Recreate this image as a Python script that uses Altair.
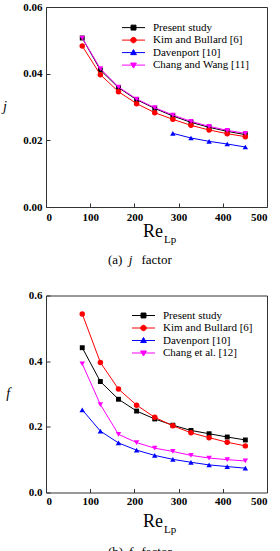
import altair as alt
import pandas as pd

# Reynolds numbers based on louver pitch
re_lp = [82, 123, 164, 205, 246, 287, 328, 369, 410, 451]
re_davenport_j = [287, 328, 369, 410, 451]

# Colburn j factor
j_present = [0.0507, 0.0411, 0.0358, 0.0322, 0.0296, 0.0273, 0.0254, 0.0239, 0.0227, 0.0217]
j_kim = [0.0483, 0.0397, 0.0346, 0.0310, 0.0283, 0.0263, 0.0245, 0.0231, 0.0220, 0.0211]
j_davenport = [0.0221, 0.0207, 0.0197, 0.0189, 0.0180]
j_chang = [0.0507, 0.0415, 0.0360, 0.0324, 0.0298, 0.0276, 0.0257, 0.0242, 0.0230, 0.0221]

# Fanning friction factor
f_present = [0.441, 0.338, 0.284, 0.248, 0.224, 0.205, 0.189, 0.179, 0.169, 0.160]
f_kim = [0.544, 0.396, 0.315, 0.266, 0.229, 0.203, 0.182, 0.167, 0.153, 0.142]
f_davenport = [0.252, 0.187, 0.151, 0.129, 0.113, 0.101, 0.092, 0.084, 0.079, 0.074]
f_chang = [0.392, 0.268, 0.177, 0.152, 0.135, 0.125, 0.113, 0.105, 0.100, 0.096]

j_names = ["Present study", "Kim and Bullard [6]", "Davenport [10]", "Chang and Wang [11]"]
f_names = ["Present study", "Kim and Bullard [6]", "Davenport [10]", "Chang et al. [12]"]

x_ticks = [0, 100, 200, 300, 400, 500]
j_ticks = [0.0, 0.02, 0.04, 0.06]
f_ticks = [0.0, 0.2, 0.4, 0.6]

COLORS = ["#000000", "#ff0000", "#0000ff", "#ff00ff"]
MARKERS = ["square", "circle", "triangle-up", "triangle-down"]
MARKER_SIZES = [24, 30, 30, 30]
# legend glyphs: a short line through the marker
LEGEND_PATHS = [
    "M-4.2,0H4.2M-0.9,-0.9H0.9V0.9H-0.9Z",
    "M-4.2,0H4.2M-1,0A1,1,0,1,0,1,0A1,1,0,1,0,-1,0Z",
    "M-4.2,0H4.2M0,-1.1L1.05,0.75H-1.05Z",
    "M-4.2,0H4.2M0,1.1L1.05,-0.75H-1.05Z",
]
SERIF = "Liberation Serif, Times New Roman, serif"
W = 221


def long_frame(names, xs_list, ys_list):
    rows = []
    for name, xs, ys in zip(names, xs_list, ys_list):
        for x, y in zip(xs, ys):
            rows.append({"Re": x, "val": y, "series": name})
    return pd.DataFrame(rows)


def text_layer(txt, x, y, size, style="normal", align="left", baseline="alphabetic"):
    return alt.Chart(pd.DataFrame({"t": [txt]})).mark_text(
        font=SERIF, fontSize=size, fontStyle=style, align=align,
        baseline=baseline, color="black",
    ).encode(text="t:N", x=alt.value(x), y=alt.value(y))


def panel(df, names, ticks, fmt, height, ytitle, title_pos, re_pos, caption,
          cap_pos, legend_xy, label_pad_x):
    axis_style = dict(title=None, offset=-4, tickSize=4, domain=False, grid=False,
                      labelFont=SERIF, labelFontWeight="bold", labelFontSize=11,
                      labelColor="black", tickColor="#333333", tickWidth=1)
    xenc = alt.X("Re:Q", scale=alt.Scale(domain=[0, 500], nice=False),
                 axis=alt.Axis(values=x_ticks, labelPadding=label_pad_x, format="d",
                               **axis_style))
    yenc = alt.Y("val:Q", scale=alt.Scale(domain=[ticks[0], ticks[-1]], nice=False),
                 axis=alt.Axis(values=ticks, labelPadding=4, format=fmt, **axis_style))
    base = alt.Chart(df)

    layers = []
    # one line + marker layer per series
    for name, col, shp, sz in zip(names, COLORS, MARKERS, MARKER_SIZES):
        sub = base.transform_filter(alt.datum.series == name)
        layers.append(sub.mark_line(strokeWidth=1, color=col).encode(x=xenc, y=yenc))
        layers.append(
            sub.mark_point(shape=shp, filled=True, size=sz, opacity=1, color=col)
            .encode(x=xenc, y=yenc)
        )

    # invisible layer carrying the legend (line-through-marker glyphs)
    lx, ly = legend_xy
    leg = dict(orient="none", legendX=lx, legendY=ly, title=None, padding=0,
               labelFont=SERIF, labelFontSize=11, labelColor="black",
               labelOffset=14, rowPadding=0.5, symbolSize=30,
               symbolStrokeWidth=1, symbolOpacity=1)
    color_scale = alt.Scale(domain=names, range=COLORS)
    legend_layer = base.mark_point(filled=True, opacity=0).encode(
        x=xenc, y=yenc,
        fill=alt.Fill("series:N", scale=color_scale, legend=alt.Legend(**leg)),
        stroke=alt.Stroke("series:N", scale=color_scale, legend=alt.Legend(**leg)),
        shape=alt.Shape("series:N", scale=alt.Scale(domain=names, range=LEGEND_PATHS),
                        legend=alt.Legend(**leg)),
    )
    layers.append(legend_layer)

    tx, ty = title_pos
    layers.append(text_layer(ytitle, tx, ty, 14, "italic", "center", "middle"))
    rx, ry = re_pos
    layers.append(text_layer("Re", rx, ry, 18, align="right"))
    layers.append(text_layer("Lp", rx + 1, ry + 6, 11))
    cx, cy = cap_pos
    layers.append(text_layer(caption[0], cx, cy, 13))
    layers.append(text_layer(caption[1], cx + 22.5, cy, 13, "italic", "center"))
    layers.append(text_layer("factor", cx + 33.5, cy, 13))

    return alt.layer(*layers).properties(width=W, height=height)


j_df = long_frame(j_names, [re_lp, re_lp, re_davenport_j, re_lp],
                  [j_present, j_kim, j_davenport, j_chang])
f_df = long_frame(f_names, [re_lp, re_lp, re_lp, re_lp],
                  [f_present, f_kim, f_davenport, f_chang])

top = panel(j_df, j_names, j_ticks, ".2f", 200, "j", (-41, 100), (117, 230.3),
            ("(a)", "j"), (62, 257), (82, 15.1), 4)
bottom = panel(f_df, f_names, f_ticks, ".1f", 197, "f", (-37.7, 98.5), (117, 231.7),
               ("(b)", "f"), (62, 260), (92, 14.5), 3)

chart = alt.vconcat(top, bottom, spacing=20.5).resolve_scale(
    stroke="independent", fill="independent", shape="independent"
).resolve_legend(
    stroke="independent", fill="independent", shape="independent"
).properties(
    padding={"left": 2, "top": 0, "right": 0, "bottom": 0},
    background="white",
).configure_view(
    stroke="#333333", strokeWidth=1
)

chart.save("out.html", embed_options={"renderer": "svg", "actions": False})
